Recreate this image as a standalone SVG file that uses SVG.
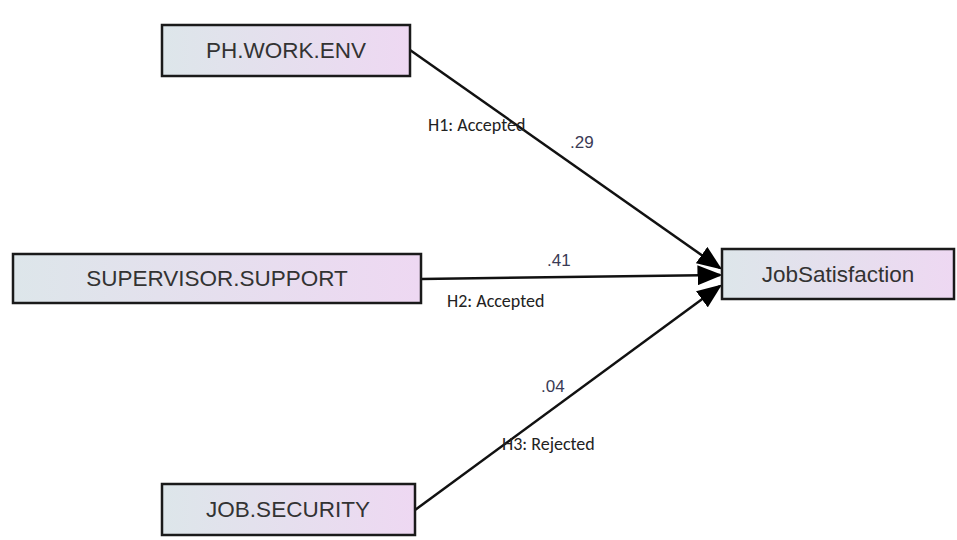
<svg xmlns="http://www.w3.org/2000/svg" width="957" height="540" viewBox="0 0 957 540">
<style>
.box{stroke:#1a1a1a;stroke-width:2.5;fill:url(#g)}
.lbl{font-family:"Liberation Sans",Arial,sans-serif;font-size:22.5px;fill:#333;text-anchor:middle}
.coef{font-family:"Liberation Sans",Arial,sans-serif;font-size:17px;fill:#3a3a55}
.hyp{font-family:"Carlito","DejaVu Sans","Liberation Sans",sans-serif;font-size:18px;fill:#222}
.conn{stroke:#111;stroke-width:2.5;fill:none;marker-end:url(#ah)}
</style>
<defs>
<linearGradient id="g" x1="0" y1="0" x2="1" y2="0">
<stop offset="0" stop-color="#dde6ea"/>
<stop offset="1" stop-color="#eed8f2"/>
</linearGradient>
<marker id="ah" markerWidth="10" markerHeight="8" refX="9" refY="4" orient="auto" markerUnits="strokeWidth">
<path d="M0,0 L10,4 L0,8 Z" fill="#000"/>
</marker>
</defs>
<rect width="957" height="540" fill="#fff"/>
<g id="connectors">
<line class="conn" x1="410" y1="50" x2="720" y2="268"/>
<line class="conn" x1="421" y1="279" x2="720" y2="275"/>
<line class="conn" x1="415" y1="510" x2="720" y2="286"/>
</g>
<g id="ph-work-env">
<rect class="box" x="162" y="25" width="248" height="51"/>
<text class="lbl" x="286" y="58">PH.WORK.ENV</text>
</g>
<g id="supervisor-support">
<rect class="box" x="13" y="254" width="408" height="49"/>
<text class="lbl" x="217" y="286">SUPERVISOR.SUPPORT</text>
</g>
<g id="job-security">
<rect class="box" x="162" y="484" width="253" height="51"/>
<text class="lbl" x="288" y="517">JOB.SECURITY</text>
</g>
<g id="job-satisfaction">
<rect class="box" x="722" y="249" width="232" height="50"/>
<text class="lbl" x="838" y="282">JobSatisfaction</text>
</g>
<g id="labels">
<text class="hyp" x="428" y="131">H1: Accepted</text>
<text class="coef" x="570" y="148">.29</text>
<text class="coef" x="547" y="266">.41</text>
<text class="hyp" x="447" y="307">H2: Accepted</text>
<text class="coef" x="541" y="392">.04</text>
<text class="hyp" x="502" y="450">H3: Rejected</text>
</g>
</svg>
